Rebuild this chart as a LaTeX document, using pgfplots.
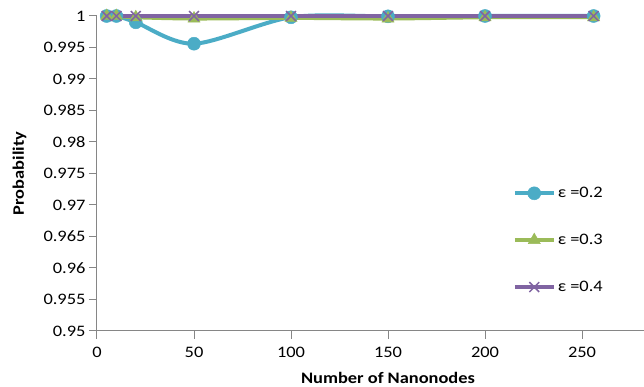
\documentclass[border=0pt]{standalone}
\usepackage{pgfplots}
\pgfplotsset{compat=1.18}
\usepackage{fontspec}
\setmainfont{Carlito}[FakeStretch=1.15]
\definecolor{cblue}{HTML}{4BACC6}
\definecolor{cgreen}{HTML}{9BBB59}
\definecolor{cpurple}{HTML}{8064A2}
\definecolor{axgray}{HTML}{868686}
\begin{document}
\begin{tikzpicture}
\path[use as bounding box] (-97pt,-56pt) rectangle (547pt,331pt);
\begin{axis}[
  at={(0pt,0pt)}, anchor=south west,
  scale only axis, width=582pt, height=315pt,
  xmin=0, xmax=300, ymin=0.95, ymax=1,
  axis lines*=left,
  axis line style={axgray, line width=1pt},
  tick style={axgray, line width=1pt},
  tick align=outside, major tick length=8pt,
  xtick={0,50,100,150,200,250},
  xticklabels={0,50,100,150,200,250},
  ytick={0.95,0.955,0.96,0.965,0.97,0.975,0.98,0.985,0.99,0.995,1},
  yticklabels={0.95,0.955,0.96,0.965,0.97,0.975,0.98,0.985,0.99,0.995,1},
  ticklabel style={font=\fontsize{16}{19}\selectfont, black},
  xticklabel style={yshift=-5pt},
  xlabel={Number of Nanonodes},
  ylabel={Probability},
  label style={font=\fontsize{16}{19}\selectfont\bfseries},
  xlabel style={at={(axis description cs:0.5,0)}, anchor=center, yshift=-47pt},
  ylabel style={at={(axis description cs:-0.133,0.5)}, anchor=center},
  clip=false,
  legend cell align=left,
  legend style={at={(axis description cs:0.714,0.463)}, anchor=north west, draw=none, fill=none,
    font=\fontsize{16}{19}\selectfont, row sep=31pt, inner sep=0pt},
  legend image code/.code={\draw[#1, mark repeat=2, mark phase=2] plot coordinates {(0pt,0pt) (19.5pt,0pt) (39pt,0pt)};},
]
\addplot[cblue, line width=4pt, smooth, mark=*, mark size=6.5pt, mark options={line width=0.5pt, fill=cblue}]
  coordinates {(5,1) (10,1) (20,0.999) (50,0.9956) (100,0.9998) (150,0.99995) (200,1) (256,1)};
\addlegendentry{ε =0.2}
\addplot[cgreen, line width=4pt, smooth, mark=triangle*, mark size=7pt, mark options={line width=0.5pt, fill=cgreen}]
  coordinates {(5,1) (10,1) (20,0.9998) (50,0.9996) (100,0.9997) (150,0.9996) (200,0.9998) (256,0.9998)};
\addlegendentry{ε =0.3}
\addplot[cpurple, line width=4pt, mark=x, mark size=7pt, mark options={line width=1.5pt}]
  coordinates {(5,1) (10,1) (20,1) (50,1) (100,1) (150,1) (200,1) (256,1)};
\addlegendentry{ε =0.4}
\end{axis}
\end{tikzpicture}
\end{document}
